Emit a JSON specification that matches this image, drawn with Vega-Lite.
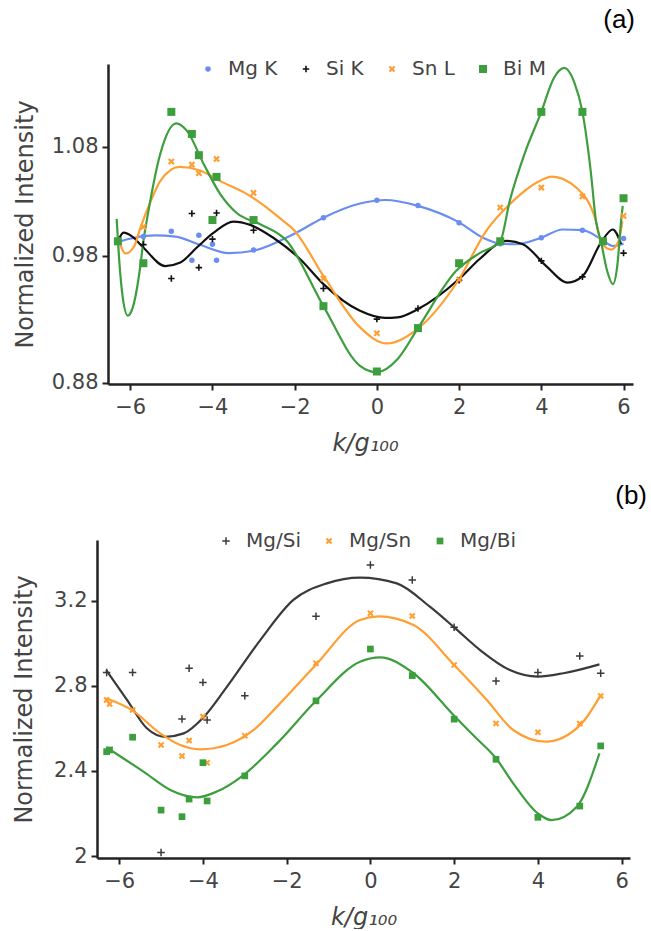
{
  "$schema": "https://vega.github.io/schema/vega-lite/v6.json",
  "background": "white",
  "padding": {"left": 12, "top": 7, "right": 0, "bottom": 0},
  "config": {
    "view": {"stroke": null},
    "font": "DejaVu Sans",
    "axis": {"grid": false, "domainColor": "#222", "domainWidth": 2.5, "tickColor": "#222", "tickWidth": 2, "tickSize": 6, "labelFont": "DejaVu Sans", "labelFontSize": 21, "labelColor": "#444", "titleFont": "DejaVu Sans", "titleFontSize": 24, "titleColor": "#444", "titleFontWeight": "normal", "labelPadding": 4},
    "legend": {"labelFont": "DejaVu Sans", "labelFontSize": 20, "labelColor": "#444", "symbolSize": 50, "symbolStrokeWidth": 0, "columnPadding": 18, "labelOffset": 10},
    "title": {"font": "Liberation Sans", "fontSize": 26, "fontWeight": "normal", "color": "#000", "anchor": "end", "frame": "group"}
  },
  "datasets": {
    "pts_a": [
      {"s": "Mg K", "k": -6.3, "v": 1.0}, {"s": "Mg K", "k": -5.68, "v": 1.004}, {"s": "Mg K", "k": -5, "v": 1.0086}, {"s": "Mg K", "k": -4.5, "v": 0.984}, {"s": "Mg K", "k": -4.33, "v": 1.0052}, {"s": "Mg K", "k": -4, "v": 0.9975}, {"s": "Mg K", "k": -3.9, "v": 0.984}, {"s": "Mg K", "k": -3, "v": 0.9927}, {"s": "Mg K", "k": -1.3, "v": 1.02}, {"s": "Mg K", "k": 0, "v": 1.0348}, {"s": "Mg K", "k": 1, "v": 1.0303}, {"s": "Mg K", "k": 2, "v": 1.0158}, {"s": "Mg K", "k": 3, "v": 0.998}, {"s": "Mg K", "k": 4, "v": 1.003}, {"s": "Mg K", "k": 5, "v": 1.0094}, {"s": "Mg K", "k": 5.5, "v": 1.0}, {"s": "Mg K", "k": 6, "v": 1.0023},
      {"s": "Si K", "k": -6.3, "v": 1.0}, {"s": "Si K", "k": -5.68, "v": 0.9972}, {"s": "Si K", "k": -5, "v": 0.9684}, {"s": "Si K", "k": -4.5, "v": 1.0235}, {"s": "Si K", "k": -4.33, "v": 0.9777}, {"s": "Si K", "k": -4, "v": 1.0018}, {"s": "Si K", "k": -3.9, "v": 1.024}, {"s": "Si K", "k": -3, "v": 1.0094}, {"s": "Si K", "k": -1.3, "v": 0.96}, {"s": "Si K", "k": 0, "v": 0.934}, {"s": "Si K", "k": 1, "v": 0.943}, {"s": "Si K", "k": 2, "v": 0.967}, {"s": "Si K", "k": 3, "v": 0.9995}, {"s": "Si K", "k": 4, "v": 0.9834}, {"s": "Si K", "k": 5, "v": 0.9698}, {"s": "Si K", "k": 5.5, "v": 1.0}, {"s": "Si K", "k": 6, "v": 0.99},
      {"s": "Sn L", "k": -6.3, "v": 1.0}, {"s": "Sn L", "k": -5.68, "v": 1.0122}, {"s": "Sn L", "k": -5, "v": 1.0676}, {"s": "Sn L", "k": -4.5, "v": 1.065}, {"s": "Sn L", "k": -4.33, "v": 1.0577}, {"s": "Sn L", "k": -4, "v": 1.019}, {"s": "Sn L", "k": -3.9, "v": 1.0698}, {"s": "Sn L", "k": -3, "v": 1.041}, {"s": "Sn L", "k": -1.3, "v": 0.9684}, {"s": "Sn L", "k": 0, "v": 0.922}, {"s": "Sn L", "k": 1, "v": 0.926}, {"s": "Sn L", "k": 2, "v": 0.9676}, {"s": "Sn L", "k": 3, "v": 1.0286}, {"s": "Sn L", "k": 4, "v": 1.0455}, {"s": "Sn L", "k": 5, "v": 1.038}, {"s": "Sn L", "k": 5.5, "v": 1.0}, {"s": "Sn L", "k": 6, "v": 1.0215},
      {"s": "Bi M", "k": -6.3, "v": 1.0}, {"s": "Bi M", "k": -5.68, "v": 0.9814}, {"s": "Bi M", "k": -5, "v": 1.1097}, {"s": "Bi M", "k": -4.5, "v": 1.091}, {"s": "Bi M", "k": -4.33, "v": 1.073}, {"s": "Bi M", "k": -4, "v": 1.018}, {"s": "Bi M", "k": -3.9, "v": 1.0546}, {"s": "Bi M", "k": -3, "v": 1.018}, {"s": "Bi M", "k": -1.3, "v": 0.945}, {"s": "Bi M", "k": 0, "v": 0.8896}, {"s": "Bi M", "k": 1, "v": 0.9264}, {"s": "Bi M", "k": 2, "v": 0.9814}, {"s": "Bi M", "k": 3, "v": 1.0}, {"s": "Bi M", "k": 4, "v": 1.1097}, {"s": "Bi M", "k": 5, "v": 1.1097}, {"s": "Bi M", "k": 5.5, "v": 1.0}, {"s": "Bi M", "k": 6, "v": 1.0365}
    ],
    "curve_a": [
      {"s": "Mg K", "k": -6.3, "v": 0.9995}, {"s": "Mg K", "k": -5.9, "v": 1.003}, {"s": "Mg K", "k": -5.4, "v": 1.005}, {"s": "Mg K", "k": -4.9, "v": 1.004}, {"s": "Mg K", "k": -4.3, "v": 0.997}, {"s": "Mg K", "k": -3.6, "v": 0.99}, {"s": "Mg K", "k": -3.0, "v": 0.992}, {"s": "Mg K", "k": -2.03, "v": 1.006}, {"s": "Mg K", "k": -1.3, "v": 1.02}, {"s": "Mg K", "k": -0.41, "v": 1.032}, {"s": "Mg K", "k": 0.2, "v": 1.035}, {"s": "Mg K", "k": 1, "v": 1.03}, {"s": "Mg K", "k": 2, "v": 1.016}, {"s": "Mg K", "k": 2.58, "v": 1.003}, {"s": "Mg K", "k": 3.0, "v": 0.998}, {"s": "Mg K", "k": 3.39, "v": 0.9975}, {"s": "Mg K", "k": 4, "v": 1.003}, {"s": "Mg K", "k": 4.52, "v": 1.01}, {"s": "Mg K", "k": 5, "v": 1.0094}, {"s": "Mg K", "k": 5.45, "v": 1.002}, {"s": "Mg K", "k": 5.74, "v": 0.996}, {"s": "Mg K", "k": 6.0, "v": 0.998},
      {"s": "Si K", "k": -6.3, "v": 1.0}, {"s": "Si K", "k": -6.16, "v": 1.0073}, {"s": "Si K", "k": -5.95, "v": 1.004}, {"s": "Si K", "k": -5.68, "v": 0.9947}, {"s": "Si K", "k": -5.15, "v": 0.979}, {"s": "Si K", "k": -4.78, "v": 0.982}, {"s": "Si K", "k": -4.38, "v": 0.9947}, {"s": "Si K", "k": -3.97, "v": 1.0073}, {"s": "Si K", "k": -3.49, "v": 1.0167}, {"s": "Si K", "k": -3.08, "v": 1.0139}, {"s": "Si K", "k": -2.52, "v": 1.003}, {"s": "Si K", "k": -1.87, "v": 0.985}, {"s": "Si K", "k": -1.3, "v": 0.9637}, {"s": "Si K", "k": -0.41, "v": 0.941}, {"s": "Si K", "k": 0.2, "v": 0.935}, {"s": "Si K", "k": 0.5, "v": 0.9355}, {"s": "Si K", "k": 1, "v": 0.9425}, {"s": "Si K", "k": 2, "v": 0.968}, {"s": "Si K", "k": 2.5, "v": 0.985}, {"s": "Si K", "k": 3.15, "v": 1.0003}, {"s": "Si K", "k": 3.55, "v": 0.9975}, {"s": "Si K", "k": 4.12, "v": 0.979}, {"s": "Si K", "k": 4.64, "v": 0.965}, {"s": "Si K", "k": 5.01, "v": 0.9707}, {"s": "Si K", "k": 5.45, "v": 0.9989}, {"s": "Si K", "k": 5.74, "v": 1.01}, {"s": "Si K", "k": 5.94, "v": 0.9975},
      {"s": "Sn L", "k": -6.3, "v": 1.004}, {"s": "Sn L", "k": -6.11, "v": 0.9896}, {"s": "Sn L", "k": -5.9, "v": 0.996}, {"s": "Sn L", "k": -5.75, "v": 1.0116}, {"s": "Sn L", "k": -5.5, "v": 1.034}, {"s": "Sn L", "k": -5.27, "v": 1.051}, {"s": "Sn L", "k": -4.8, "v": 1.063}, {"s": "Sn L", "k": -4.3, "v": 1.06}, {"s": "Sn L", "k": -3.81, "v": 1.051}, {"s": "Sn L", "k": -3.16, "v": 1.04}, {"s": "Sn L", "k": -2.68, "v": 1.0286}, {"s": "Sn L", "k": -2.27, "v": 1.017}, {"s": "Sn L", "k": -2.03, "v": 1.01}, {"s": "Sn L", "k": -1.3, "v": 0.9707}, {"s": "Sn L", "k": -0.41, "v": 0.927}, {"s": "Sn L", "k": 0.24, "v": 0.9134}, {"s": "Sn L", "k": 1, "v": 0.926}, {"s": "Sn L", "k": 2, "v": 0.968}, {"s": "Sn L", "k": 2.66, "v": 1.0089}, {"s": "Sn L", "k": 3.31, "v": 1.034}, {"s": "Sn L", "k": 3.9, "v": 1.05}, {"s": "Sn L", "k": 4.26, "v": 1.0548}, {"s": "Sn L", "k": 4.85, "v": 1.0455}, {"s": "Sn L", "k": 5.33, "v": 1.017}, {"s": "Sn L", "k": 5.45, "v": 0.999}, {"s": "Sn L", "k": 5.7, "v": 0.993}, {"s": "Sn L", "k": 5.88, "v": 1.0}, {"s": "Sn L", "k": 5.97, "v": 1.017},
      {"s": "Bi M", "k": -6.33, "v": 1.019}, {"s": "Bi M", "k": -6.27, "v": 0.985}, {"s": "Bi M", "k": -6.18, "v": 0.952}, {"s": "Bi M", "k": -6.06, "v": 0.937}, {"s": "Bi M", "k": -5.98, "v": 0.94}, {"s": "Bi M", "k": -5.88, "v": 0.952}, {"s": "Bi M", "k": -5.77, "v": 0.975}, {"s": "Bi M", "k": -5.68, "v": 1.0}, {"s": "Bi M", "k": -5.57, "v": 1.023}, {"s": "Bi M", "k": -5.27, "v": 1.074}, {"s": "Bi M", "k": -4.88, "v": 1.1}, {"s": "Bi M", "k": -4.62, "v": 1.0936}, {"s": "Bi M", "k": -4.21, "v": 1.0653}, {"s": "Bi M", "k": -3.81, "v": 1.04}, {"s": "Bi M", "k": -3.41, "v": 1.024}, {"s": "Bi M", "k": -2.84, "v": 1.0145}, {"s": "Bi M", "k": -2.19, "v": 1.0003}, {"s": "Bi M", "k": -1.3, "v": 0.945}, {"s": "Bi M", "k": -0.41, "v": 0.8944}, {"s": "Bi M", "k": 0, "v": 0.889}, {"s": "Bi M", "k": 0.5, "v": 0.9}, {"s": "Bi M", "k": 1, "v": 0.9264}, {"s": "Bi M", "k": 1.93, "v": 0.975}, {"s": "Bi M", "k": 2.5, "v": 0.99}, {"s": "Bi M", "k": 3.0, "v": 1.0}, {"s": "Bi M", "k": 3.23, "v": 1.034}, {"s": "Bi M", "k": 3.6, "v": 1.075}, {"s": "Bi M", "k": 4, "v": 1.1097}, {"s": "Bi M", "k": 4.3, "v": 1.138}, {"s": "Bi M", "k": 4.56, "v": 1.147}, {"s": "Bi M", "k": 4.8, "v": 1.135}, {"s": "Bi M", "k": 5, "v": 1.1097}, {"s": "Bi M", "k": 5.2, "v": 1.06}, {"s": "Bi M", "k": 5.33, "v": 1.017}, {"s": "Bi M", "k": 5.45, "v": 1.0}, {"s": "Bi M", "k": 5.6, "v": 0.975}, {"s": "Bi M", "k": 5.74, "v": 0.9636}, {"s": "Bi M", "k": 5.85, "v": 0.98}, {"s": "Bi M", "k": 5.94, "v": 1.017}, {"s": "Bi M", "k": 5.98, "v": 1.03}
    ],
    "pts_b": [
      {"s": "Mg/Si", "k": -6.3, "v": 2.864}, {"s": "Mg/Si", "k": -5.68, "v": 2.863}, {"s": "Mg/Si", "k": -5, "v": 2.016}, {"s": "Mg/Si", "k": -4.5, "v": 2.645}, {"s": "Mg/Si", "k": -4.33, "v": 2.883}, {"s": "Mg/Si", "k": -4, "v": 2.817}, {"s": "Mg/Si", "k": -3.9, "v": 2.64}, {"s": "Mg/Si", "k": -3, "v": 2.754}, {"s": "Mg/Si", "k": -1.3, "v": 3.128}, {"s": "Mg/Si", "k": 0, "v": 3.369}, {"s": "Mg/Si", "k": 1, "v": 3.299}, {"s": "Mg/Si", "k": 2, "v": 3.076}, {"s": "Mg/Si", "k": 3, "v": 2.824}, {"s": "Mg/Si", "k": 4, "v": 2.863}, {"s": "Mg/Si", "k": 5, "v": 2.941}, {"s": "Mg/Si", "k": 5.5, "v": 2.86},
      {"s": "Mg/Sn", "k": -6.3, "v": 2.734}, {"s": "Mg/Sn", "k": -6.23, "v": 2.715}, {"s": "Mg/Sn", "k": -5.68, "v": 2.687}, {"s": "Mg/Sn", "k": -5, "v": 2.522}, {"s": "Mg/Sn", "k": -4.5, "v": 2.471}, {"s": "Mg/Sn", "k": -4.33, "v": 2.543}, {"s": "Mg/Sn", "k": -4, "v": 2.656}, {"s": "Mg/Sn", "k": -3.9, "v": 2.439}, {"s": "Mg/Sn", "k": -3, "v": 2.566}, {"s": "Mg/Sn", "k": -1.3, "v": 2.907}, {"s": "Mg/Sn", "k": 0, "v": 3.142}, {"s": "Mg/Sn", "k": 1, "v": 3.129}, {"s": "Mg/Sn", "k": 2, "v": 2.899}, {"s": "Mg/Sn", "k": 3, "v": 2.624}, {"s": "Mg/Sn", "k": 4, "v": 2.582}, {"s": "Mg/Sn", "k": 5, "v": 2.624}, {"s": "Mg/Sn", "k": 5.5, "v": 2.753},
      {"s": "Mg/Bi", "k": -6.3, "v": 2.491}, {"s": "Mg/Bi", "k": -6.23, "v": 2.499}, {"s": "Mg/Bi", "k": -5.68, "v": 2.559}, {"s": "Mg/Bi", "k": -5, "v": 2.216}, {"s": "Mg/Bi", "k": -4.5, "v": 2.185}, {"s": "Mg/Bi", "k": -4.33, "v": 2.268}, {"s": "Mg/Bi", "k": -4, "v": 2.439}, {"s": "Mg/Bi", "k": -3.9, "v": 2.259}, {"s": "Mg/Bi", "k": -3, "v": 2.377}, {"s": "Mg/Bi", "k": -1.3, "v": 2.73}, {"s": "Mg/Bi", "k": 0, "v": 2.974}, {"s": "Mg/Bi", "k": 1, "v": 2.849}, {"s": "Mg/Bi", "k": 2, "v": 2.644}, {"s": "Mg/Bi", "k": 3, "v": 2.455}, {"s": "Mg/Bi", "k": 4, "v": 2.182}, {"s": "Mg/Bi", "k": 5, "v": 2.235}, {"s": "Mg/Bi", "k": 5.5, "v": 2.518}
    ],
    "curve_b": [
      {"s": "Mg/Si", "k": -6.31, "v": 2.875}, {"s": "Mg/Si", "k": -5.81, "v": 2.734}, {"s": "Mg/Si", "k": -5.34, "v": 2.601}, {"s": "Mg/Si", "k": -4.9, "v": 2.561}, {"s": "Mg/Si", "k": -4.46, "v": 2.577}, {"s": "Mg/Si", "k": -3.99, "v": 2.652}, {"s": "Mg/Si", "k": -3.45, "v": 2.79}, {"s": "Mg/Si", "k": -2.63, "v": 3.016}, {"s": "Mg/Si", "k": -1.84, "v": 3.205}, {"s": "Mg/Si", "k": -1.04, "v": 3.283}, {"s": "Mg/Si", "k": -0.25, "v": 3.31}, {"s": "Mg/Si", "k": 0.63, "v": 3.283}, {"s": "Mg/Si", "k": 1.42, "v": 3.173}, {"s": "Mg/Si", "k": 2.0, "v": 3.076}, {"s": "Mg/Si", "k": 2.62, "v": 2.969}, {"s": "Mg/Si", "k": 3.33, "v": 2.875}, {"s": "Mg/Si", "k": 4.0, "v": 2.844}, {"s": "Mg/Si", "k": 4.61, "v": 2.86}, {"s": "Mg/Si", "k": 5.47, "v": 2.902},
      {"s": "Mg/Sn", "k": -6.31, "v": 2.742}, {"s": "Mg/Sn", "k": -5.67, "v": 2.683}, {"s": "Mg/Sn", "k": -5.02, "v": 2.577}, {"s": "Mg/Sn", "k": -4.54, "v": 2.522}, {"s": "Mg/Sn", "k": -4.06, "v": 2.502}, {"s": "Mg/Sn", "k": -3.43, "v": 2.522}, {"s": "Mg/Sn", "k": -2.79, "v": 2.593}, {"s": "Mg/Sn", "k": -2.23, "v": 2.703}, {"s": "Mg/Sn", "k": -1.3, "v": 2.9}, {"s": "Mg/Sn", "k": -0.25, "v": 3.111}, {"s": "Mg/Sn", "k": 0.2, "v": 3.128}, {"s": "Mg/Sn", "k": 1.03, "v": 3.087}, {"s": "Mg/Sn", "k": 2.0, "v": 2.899}, {"s": "Mg/Sn", "k": 2.78, "v": 2.734}, {"s": "Mg/Sn", "k": 3.41, "v": 2.593}, {"s": "Mg/Sn", "k": 4.19, "v": 2.538}, {"s": "Mg/Sn", "k": 5.01, "v": 2.616}, {"s": "Mg/Sn", "k": 5.48, "v": 2.75},
      {"s": "Mg/Bi", "k": -6.31, "v": 2.512}, {"s": "Mg/Bi", "k": -5.42, "v": 2.397}, {"s": "Mg/Bi", "k": -4.78, "v": 2.311}, {"s": "Mg/Bi", "k": -4.14, "v": 2.276}, {"s": "Mg/Bi", "k": -3.67, "v": 2.303}, {"s": "Mg/Bi", "k": -3.03, "v": 2.381}, {"s": "Mg/Bi", "k": -2.23, "v": 2.53}, {"s": "Mg/Bi", "k": -1.28, "v": 2.734}, {"s": "Mg/Bi", "k": -0.25, "v": 2.914}, {"s": "Mg/Bi", "k": 0.23, "v": 2.935}, {"s": "Mg/Bi", "k": 1.03, "v": 2.86}, {"s": "Mg/Bi", "k": 2.0, "v": 2.66}, {"s": "Mg/Bi", "k": 2.5, "v": 2.56}, {"s": "Mg/Bi", "k": 3.0, "v": 2.46}, {"s": "Mg/Bi", "k": 3.41, "v": 2.342}, {"s": "Mg/Bi", "k": 4.0, "v": 2.2}, {"s": "Mg/Bi", "k": 4.33, "v": 2.169}, {"s": "Mg/Bi", "k": 4.93, "v": 2.232}, {"s": "Mg/Bi", "k": 5.47, "v": 2.483}
    ]
  },
  "spacing": 28,
  "resolve": {"scale": {"color": "independent", "shape": "independent", "size": "independent", "x": "independent", "y": "independent"}, "legend": {"color": "independent", "shape": "independent"}},
  "vconcat": [
    {
      "width": 536,
      "height": 320,
      "title": {"text": "(a)", "offset": 26, "dx": 2},
      "resolve": {"legend": {"color": "independent", "shape": "independent", "size": "independent"}},
      "layer": [
        {
          "data": {"name": "curve_a"},
          "mark": {"type": "line", "interpolate": "monotone", "strokeWidth": 2.2, "clip": true},
          "encoding": {
            "x": {"field": "k", "type": "quantitative", "scale": {"domain": [-6.808, 6.23], "nice": false, "zero": false}, "axis": {"values": [-6, -4, -2, 0, 2, 4, 6], "format": "d", "title": "k/g₁₀₀", "titleFontStyle": "italic", "titlePadding": 14, "labelPadding": 6, "domainDash": [0, 11, 525, 100]}},
            "y": {"field": "v", "type": "quantitative", "scale": {"domain": [0.879, 1.1503], "nice": false, "zero": false}, "axis": {"values": [0.88, 0.98763, 1.08], "labelExpr": "datum.value > 1.03 ? '1.08' : datum.value > 0.93 ? '0.98' : '0.88'", "title": "Normalized Intensity", "titlePadding": 14, "offset": -11}},
            "color": {"field": "s", "type": "nominal", "scale": {"domain": ["Mg K", "Si K", "Sn L", "Bi M"], "range": ["#6a8df0", "#111111", "#ff9f33", "#3d9e3d"]}, "legend": null},
            "detail": {"field": "s"}
          }
        },
        {
          "data": {"name": "pts_a"},
          "mark": {"type": "point", "filled": true, "opacity": 1, "clip": true},
          "encoding": {
            "x": {"field": "k", "type": "quantitative"},
            "y": {"field": "v", "type": "quantitative"},
            "color": {"field": "s", "type": "nominal", "scale": {"domain": ["Mg K", "Si K", "Sn L", "Bi M"], "range": ["#6a8df0", "#111111", "#ff9f33", "#3d9e3d"]}, "legend": {"title": null, "orient": "none", "direction": "horizontal", "legendX": 101, "legendY": -5}},
            "shape": {"field": "s", "type": "nominal", "scale": {"domain": ["Mg K", "Si K", "Sn L", "Bi M"], "range": ["circle", "M-1,-0.25L-0.25,-0.25L-0.25,-1L0.25,-1L0.25,-0.25L1,-0.25L1,0.25L0.25,0.25L0.25,1L-0.25,1L-0.25,0.25L-1,0.25Z", "M0.495,-0.919L0.919,-0.495L0.424,0L0.919,0.495L0.495,0.919L0,0.424L-0.495,0.919L-0.919,0.495L-0.424,0L-0.919,-0.495L-0.495,-0.919L0,-0.424Z", "square"]}, "legend": {"title": null, "orient": "none", "direction": "horizontal", "legendX": 101, "legendY": -5}},
            "size": {"field": "s", "type": "nominal", "scale": {"domain": ["Mg K", "Si K", "Sn L", "Bi M"], "range": [30, 64, 45, 36]}, "legend": null}
          }
        }
      ]
    },
    {
      "width": 533,
      "height": 318,
      "title": {"text": "(b)", "offset": 22, "dx": 17},
      "resolve": {"legend": {"color": "independent", "shape": "independent", "size": "independent"}},
      "layer": [
        {
          "data": {"name": "curve_b"},
          "mark": {"type": "line", "interpolate": "monotone", "strokeWidth": 2.2, "clip": true},
          "encoding": {
            "x": {"field": "k", "type": "quantitative", "scale": {"domain": [-6.53, 6.2], "nice": false, "zero": false}, "axis": {"values": [-6, -4, -2, 0, 2, 4, 6], "format": "d", "title": "k/g₁₀₀", "titleFontStyle": "italic", "titlePadding": 14, "labelPadding": 6}},
            "y": {"field": "v", "type": "quantitative", "scale": {"domain": [1.9906, 3.487], "nice": false, "zero": false}, "axis": {"values": [2, 2.4, 2.8, 3.2], "format": ".1~f", "title": "Normalized Intensity", "titlePadding": 17}},
            "color": {"field": "s", "type": "nominal", "scale": {"domain": ["Mg/Si", "Mg/Sn", "Mg/Bi"], "range": ["#3a3a3a", "#ff9f33", "#3d9e3d"]}, "legend": null},
            "detail": {"field": "s"}
          }
        },
        {
          "data": {"name": "pts_b"},
          "mark": {"type": "point", "filled": true, "opacity": 1, "clip": true},
          "encoding": {
            "x": {"field": "k", "type": "quantitative"},
            "y": {"field": "v", "type": "quantitative"},
            "color": {"field": "s", "type": "nominal", "scale": {"domain": ["Mg/Si", "Mg/Sn", "Mg/Bi"], "range": ["#3a3a3a", "#ff9f33", "#3d9e3d"]}, "legend": {"title": null, "orient": "none", "direction": "horizontal", "legendX": 119, "legendY": -9}},
            "shape": {"field": "s", "type": "nominal", "scale": {"domain": ["Mg/Si", "Mg/Sn", "Mg/Bi"], "range": ["M-1,-0.2L-0.2,-0.2L-0.2,-1L0.2,-1L0.2,-0.2L1,-0.2L1,0.2L0.2,0.2L0.2,1L-0.2,1L-0.2,0.2L-1,0.2Z", "M0.495,-0.919L0.919,-0.495L0.424,0L0.919,0.495L0.495,0.919L0,0.424L-0.495,0.919L-0.919,0.495L-0.424,0L-0.919,-0.495L-0.495,-0.919L0,-0.424Z", "square"]}, "legend": {"title": null, "orient": "none", "direction": "horizontal", "legendX": 119, "legendY": -9}},
            "size": {"field": "s", "type": "nominal", "scale": {"domain": ["Mg/Si", "Mg/Sn", "Mg/Bi"], "range": [56, 45, 36]}, "legend": null}
          }
        }
      ]
    }
  ]
}
